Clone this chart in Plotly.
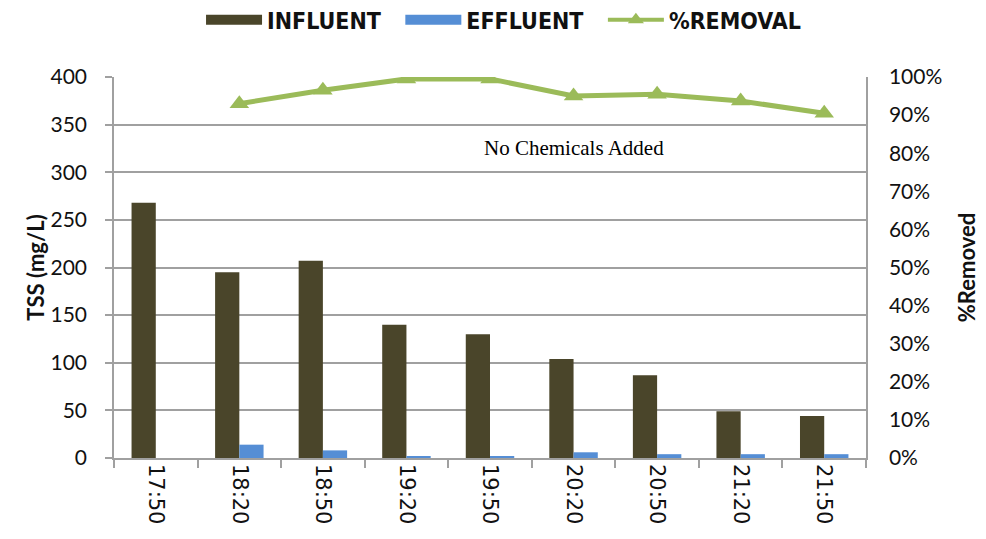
import plotly.graph_objects as go

times = ["17:50", "18:20", "18:50", "19:20", "19:50", "20:20", "20:50", "21:20", "21:50"]
influent = [268, 195, 207, 140, 130, 104, 87, 49, 44]
effluent = [None, 14, 8, 2, 2, 6, 4, 4, 4]
removal = [None, 0.93, 0.965, 0.995, 0.995, 0.95, 0.955, 0.937, 0.905]

C_INF = "#4A452A"
C_EFF = "#558ED5"
C_REM = "#9BBB59"
GRID = "#A0A0A0"
NB = "\u00a0"

fig = go.Figure()
fig.add_trace(go.Bar(x=times, y=influent, name="INFLUENT", marker=dict(color=C_INF, line=dict(width=0)),
                     showlegend=False, yaxis="y"))
fig.add_trace(go.Bar(x=times, y=effluent, name="EFFLUENT", marker=dict(color=C_EFF, line=dict(width=0)),
                     showlegend=False, yaxis="y"))
fig.add_trace(go.Scatter(x=times, y=removal, name="%REMOVAL", mode="lines+markers", yaxis="y2",
                         line=dict(color=C_REM, width=5),
                         marker=dict(symbol="triangle-up", size=17, color=C_REM),
                         showlegend=False))
# legend-only entries (wide swatches like the original)
fig.add_trace(go.Scatter(x=[None], y=[None], name="INFLUENT" + NB * 2, mode="lines",
                         line=dict(color=C_INF, width=14), yaxis="y"))
fig.add_trace(go.Scatter(x=[None], y=[None], name="EFFLUENT" + NB * 2, mode="lines",
                         line=dict(color=C_EFF, width=14), yaxis="y"))
fig.add_trace(go.Scatter(x=[None], y=[None], name="%REMOVAL", mode="lines+markers", yaxis="y2",
                         line=dict(color=C_REM, width=4),
                         marker=dict(symbol="triangle-up", size=14, color=C_REM)))

fig.add_annotation(x="20:20", y=325, xref="x", yref="y", text="No Chemicals Added",
                   showarrow=False, font=dict(family="Liberation Serif", size=21, color="#000000"))

tickfont = dict(family="Lato", size=21, color="#111111")
fig.update_layout(
    width=978, height=531,
    margin=dict(l=106, r=120, t=69, b=81, autoexpand=False),
    paper_bgcolor="white", plot_bgcolor="white",
    barmode="group", bargap=0.42, bargroupgap=0,
    showlegend=True,
    legend=dict(orientation="h", x=0.518, xanchor="center", y=1.15, yanchor="middle",
                font=dict(family="DejaVu Sans Condensed, Liberation Sans",
                          size=23, color="#111111", weight="bold"),
                itemwidth=56, traceorder="normal", bgcolor="rgba(0,0,0,0)"),
    xaxis=dict(type="category", showgrid=False, showline=True, linecolor=GRID, linewidth=1.5,
               ticks="outside", tickson="boundaries", ticklen=8, tickcolor=GRID, tickwidth=1.5,
               tickangle=90, tickfont=dict(family="DejaVu Sans", size=21, color="#111111"),
               range=[-0.5, 8.5]),
    yaxis=dict(range=[0, 400], dtick=50, showgrid=True, gridcolor=GRID, gridwidth=1.5,
               showline=True, linecolor=GRID, linewidth=1.5, ticks="outside", ticklen=7,
               tickcolor=GRID, tickwidth=1.5, tickfont=tickfont, zeroline=False,
               ticklabelstandoff=14,
               title=dict(text="<b>TSS (mg/L)</b>", font=dict(family="Lato", size=22, color="#111111"),
                          standoff=0)),
    yaxis2=dict(range=[0, 1], dtick=0.1, tickformat=".0%", overlaying="y", side="right",
                showgrid=False, showline=True, linecolor=GRID, linewidth=1.5, ticks="outside",
                ticklen=17, tickcolor="rgba(0,0,0,0)", tickwidth=1.5, tickfont=tickfont, zeroline=False,
                minor=dict(ticks="outside", ticklen=6, dtick=0.1, tickcolor=GRID, tickwidth=1.5,
                           showgrid=False),
                title=dict(text="<b>%Removed</b>", font=dict(family="Lato", size=22, color="#111111"),
                           standoff=18)),
)

fig.write_html("out.html")
